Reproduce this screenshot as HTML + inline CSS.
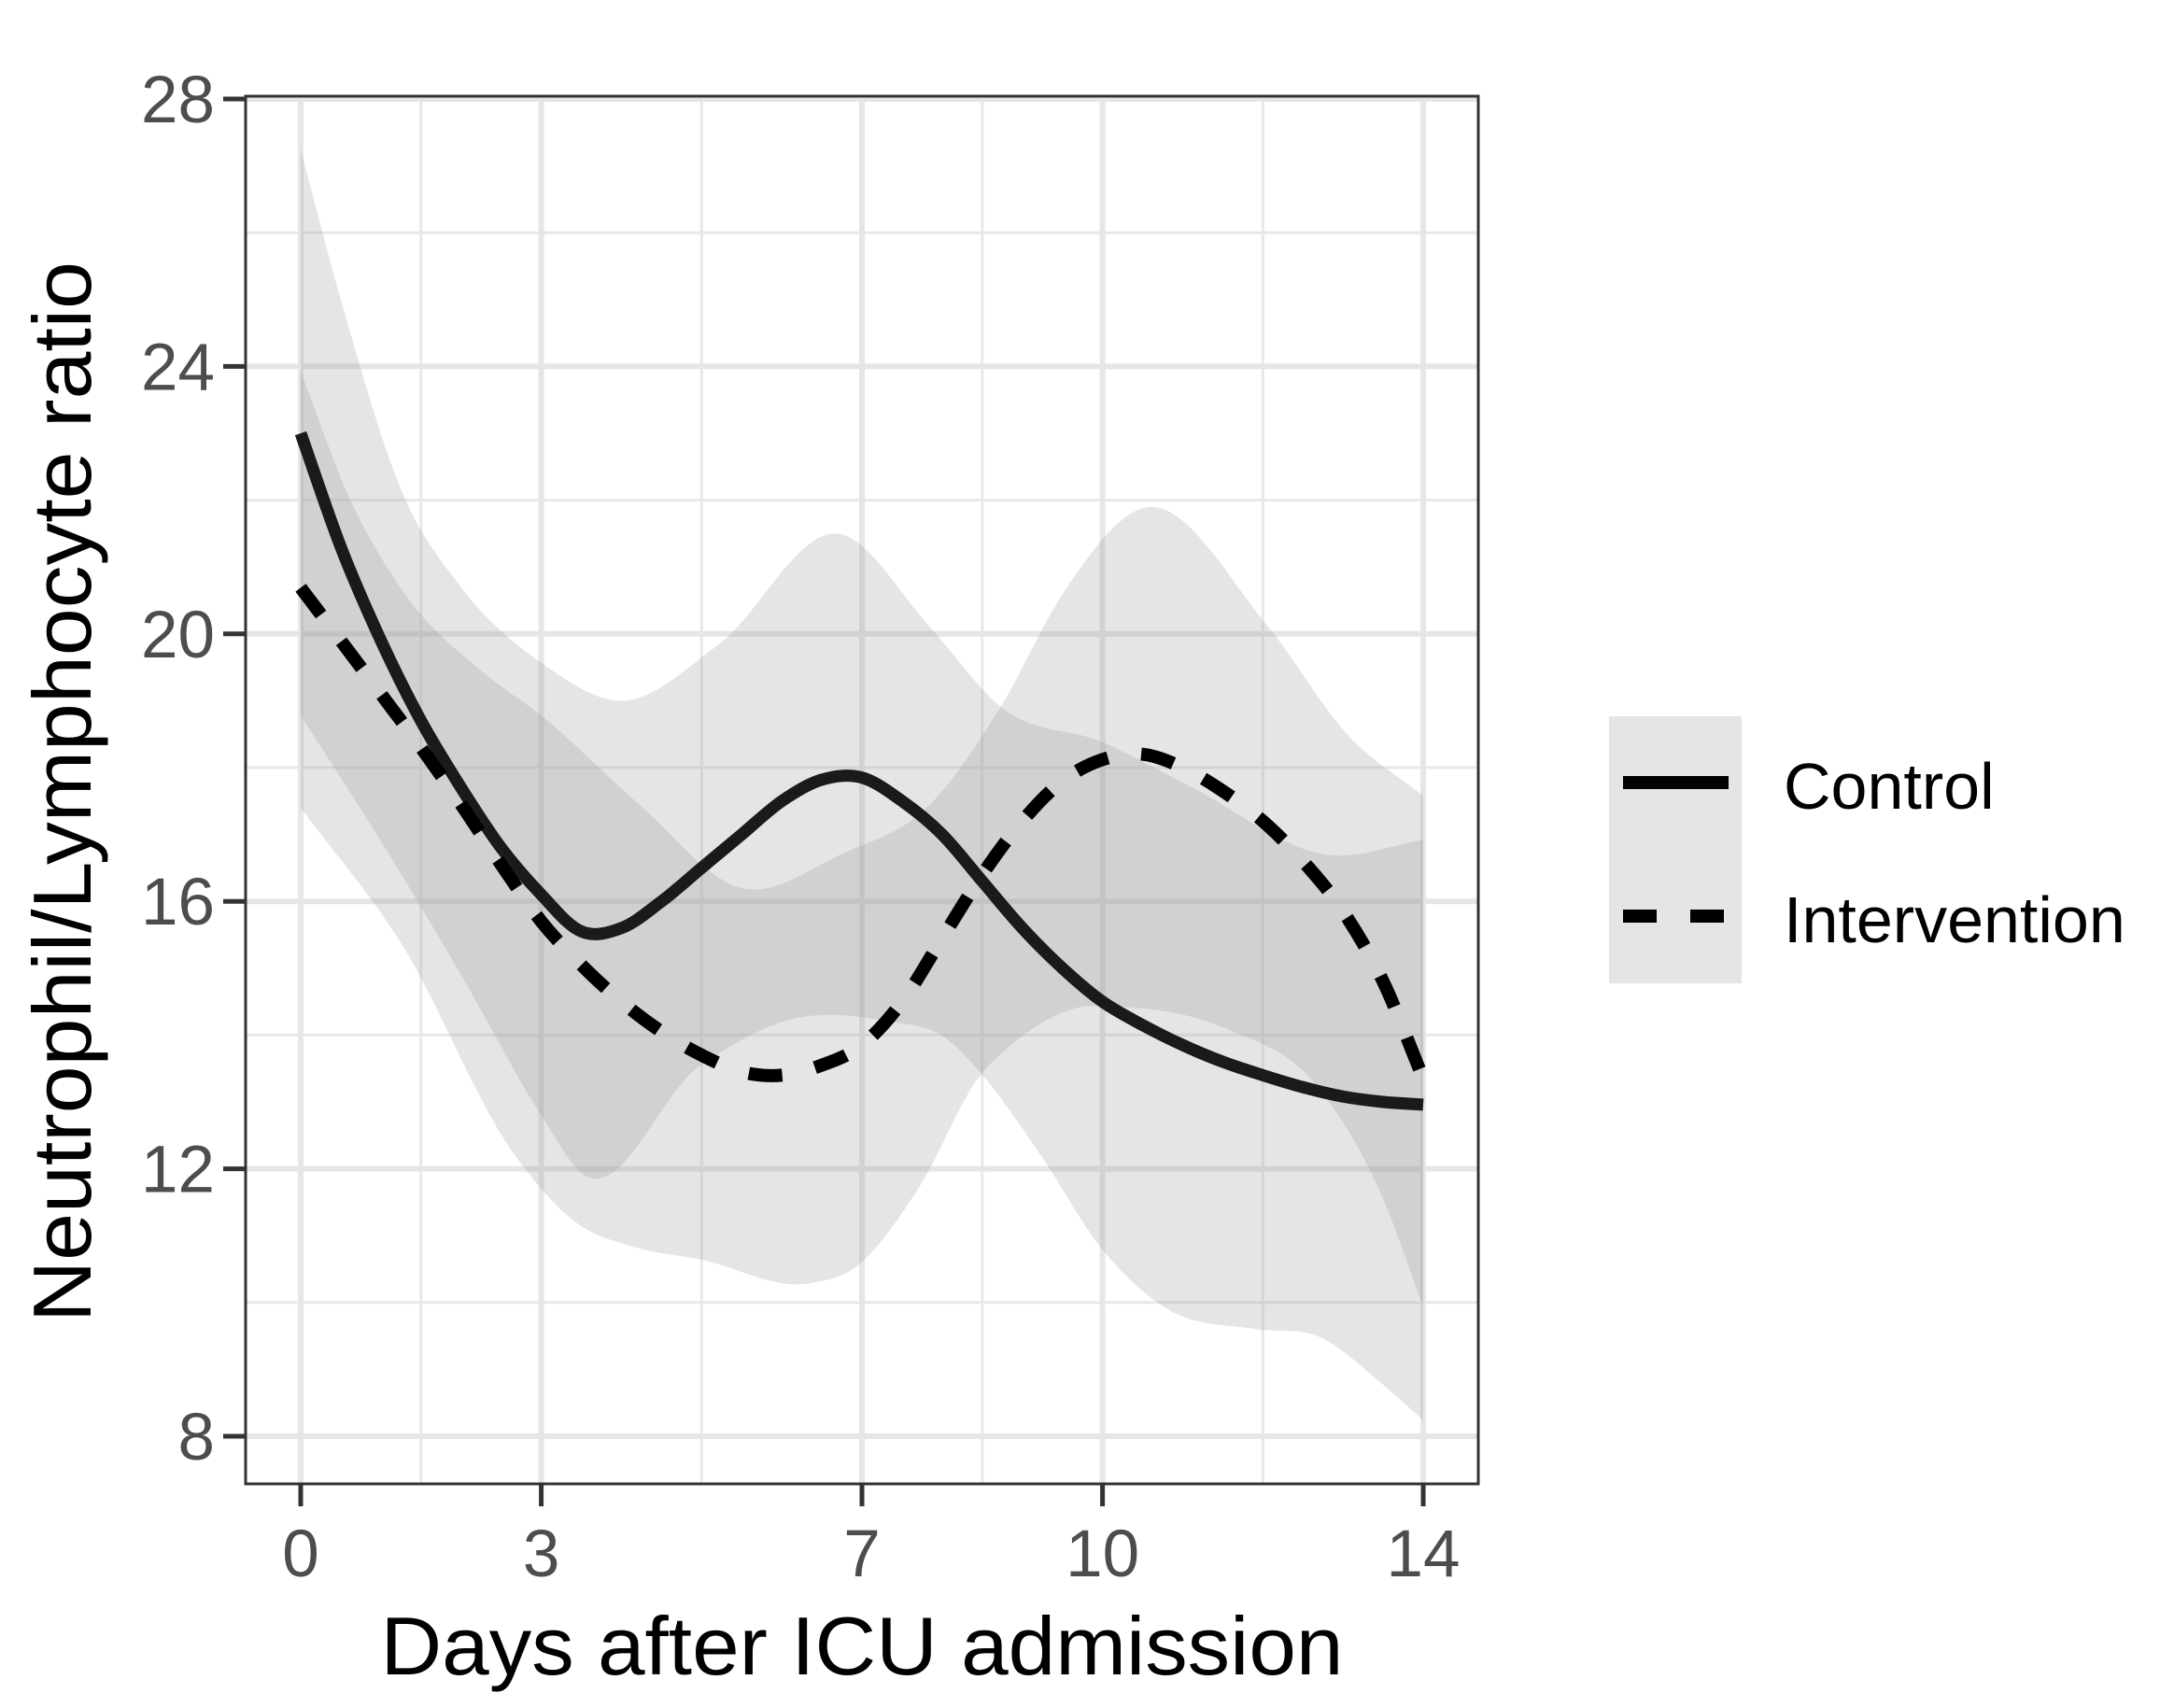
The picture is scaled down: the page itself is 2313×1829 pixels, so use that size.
<!DOCTYPE html>
<html><head><meta charset="utf-8"><style>
html,body{margin:0;padding:0;background:#fff;}
svg{display:block;font-family:"Liberation Sans",Arial,sans-serif;}
</style></head><body>
<svg id="chart" width="2313" height="1829" viewBox="0 0 2313 1829" xmlns="http://www.w3.org/2000/svg">
<rect x="0" y="0" width="2313" height="1829" fill="#fff"/>
<g id="grid"></g>
<g id="bands"></g>
<g id="lines"></g>
<rect x="263" y="103" width="1320" height="1486" fill="none" stroke="#333" stroke-width="3"/>
<g id="axes"></g>
<text x="923" y="1793" font-size="88" text-anchor="middle" textLength="1031" lengthAdjust="spacingAndGlyphs" fill="#000">Days after ICU admission</text>
<text transform="translate(97,848) rotate(-90)" font-size="88" text-anchor="middle" textLength="1136" lengthAdjust="spacingAndGlyphs" fill="#000">Neutrophil/Lymphocyte ratio</text>
<g>
<rect x="1723" y="767" width="142" height="286" fill="#e5e5e5"/>
<line x1="1738" y1="838" x2="1851" y2="838" stroke="#000" stroke-width="14"/>
<line x1="1738" y1="981" x2="1851" y2="981" stroke="#000" stroke-width="14" stroke-dasharray="36 36"/>
<text x="1910" y="866" font-size="70" fill="#000">Control</text>
<text x="1910" y="1009" font-size="70" fill="#000">Intervention</text>
</g>
</svg>
<script>
const xTicks = [0, 3, 7, 10, 14];
const xMinor = [1.5, 5, 8.5, 12];
const yTicks = [8, 12, 16, 20, 24, 28];
const yMinor = [10, 14, 18, 22, 26];

const ctrlDays = [0, 0.5, 1, 1.5, 2, 2.5, 3, 3.5, 4, 4.5, 5, 5.5, 6, 6.5, 7, 7.5, 8, 8.5, 9, 9.5, 10, 10.5, 11, 11.5, 12, 12.5, 13, 13.5, 14];
const ctrlMean = [23.0, 21.3, 19.9, 18.7, 17.7, 16.8, 16.1, 15.55, 15.6, 16.0, 16.5, 17.0, 17.5, 17.82, 17.85, 17.5, 17.0, 16.3, 15.6, 15.0, 14.5, 14.15, 13.85, 13.6, 13.4, 13.22, 13.08, 13.0, 12.96];
const ctrlUpDays = [0, 0.5, 1.28, 2, 3, 4.02, 5.2, 6.74, 7.85, 8.73, 10, 11.09, 12.85, 14];
const ctrlUpper = [27.24, 25.0, 22.08, 20.7, 19.57, 19.0, 19.83, 21.49, 20.1, 18.91, 18.38, 17.72, 16.69, 16.92];
const ctrlLoDays = [0, 1, 2, 3, 3.5, 4.97, 6.13, 7.29, 8.06, 8.49, 9.22, 10, 10.76, 11.93, 12.7, 13.46, 14];
const ctrlLower = [18.78, 16.9, 14.9, 12.8, 11.94, 13.53, 14.24, 14.21, 13.94, 13.42, 12.22, 10.79, 9.94, 9.6, 9.49, 8.81, 8.24];

const intDays = [0, 0.5, 1, 1.5, 2, 2.5, 3, 3.5, 4, 4.5, 5, 5.5, 6, 6.5, 7, 7.5, 8, 8.5, 9, 9.5, 10, 10.5, 11, 11.5, 12, 12.5, 13, 13.5, 14];
const intMean = [20.69, 19.9, 19.1, 18.3, 17.45, 16.55, 15.7, 15.05, 14.5, 14.05, 13.7, 13.45, 13.4, 13.55, 13.85, 14.5, 15.45, 16.4, 17.2, 17.8, 18.12, 18.2, 18.0, 17.65, 17.2, 16.6, 15.85, 14.8, 13.35];
const intUpDays = [0, 0.59, 1.28, 2.26, 3, 4.22, 5.49, 6.77, 7.85, 8.73, 9.52, 10.5, 12.07, 13.05, 14];
const intUpper = [23.93, 22.08, 20.63, 19.44, 18.78, 17.45, 16.2, 16.72, 17.45, 18.91, 20.63, 21.88, 20.1, 18.5, 17.58];
const intLoDays = [0, 1.27, 2.66, 3.43, 4.2, 4.97, 6.36, 6.9, 7.68, 8.49, 8.83, 9.6, 10.38, 11.53, 12.7, 13.46, 14];
const intLower = [17.4, 15.34, 12.22, 11.2, 10.82, 10.65, 10.29, 10.51, 11.66, 13.42, 13.82, 14.38, 14.41, 14.1, 13.2, 11.66, 9.94];

const NS = "http://www.w3.org/2000/svg";
const PL = 263, PR = 1583, PT = 103, PB = 1589;
const X0 = 322, XS = 85.86, Y28 = 106, YS = 71.6;
function sx(d){ return X0 + d * XS; }
function sy(v){ return Y28 + (28 - v) * YS; }
function mk(tag, attrs, parent){
  const e = document.createElementNS(NS, tag);
  for (const k in attrs) e.setAttribute(k, attrs[k]);
  parent.appendChild(e);
  return e;
}
function pts(days, vals){ return days.map((d,i)=>[sx(d), sy(vals[i])]); }
// Hermite spline in x (handles uneven spacing without kinks)
function slopes(p){
  const n = p.length, m = [];
  for (let i=0;i<n;i++){
    if (i===0) m.push((p[1][1]-p[0][1])/(p[1][0]-p[0][0]));
    else if (i===n-1) m.push((p[n-1][1]-p[n-2][1])/(p[n-1][0]-p[n-2][0]));
    else {
      const h0=p[i][0]-p[i-1][0], h1=p[i+1][0]-p[i][0];
      const d0=(p[i][1]-p[i-1][1])/h0, d1=(p[i+1][1]-p[i][1])/h1;
      m.push((d0*h1 + d1*h0)/(h0+h1));
    }
  }
  return m;
}
function segs(p){
  const m = slopes(p); let s = "";
  for (let i=0;i<p.length-1;i++){
    const h = p[i+1][0]-p[i][0];
    const c1=[p[i][0]+h/3, p[i][1]+m[i]*h/3];
    const c2=[p[i+1][0]-h/3, p[i+1][1]-m[i+1]*h/3];
    s += " C"+c1[0].toFixed(1)+","+c1[1].toFixed(1)+" "+c2[0].toFixed(1)+","+c2[1].toFixed(1)+" "+p[i+1][0].toFixed(1)+","+p[i+1][1].toFixed(1);
  }
  return s;
}
function spline(p){ return "M"+p[0][0].toFixed(1)+","+p[0][1].toFixed(1)+segs(p); }
function splineRev(p){
  // draw from right to left: build forward then reverse control points
  const m = slopes(p); let s = "";
  for (let i=p.length-1;i>0;i--){
    const h = p[i][0]-p[i-1][0];
    const c1=[p[i][0]-h/3, p[i][1]-m[i]*h/3];
    const c2=[p[i-1][0]+h/3, p[i-1][1]+m[i-1]*h/3];
    s += " C"+c1[0].toFixed(1)+","+c1[1].toFixed(1)+" "+c2[0].toFixed(1)+","+c2[1].toFixed(1)+" "+p[i-1][0].toFixed(1)+","+p[i-1][1].toFixed(1);
  }
  return s;
}

const grid = document.getElementById("grid");
yMinor.forEach(v=>{
  const l = mk("line",{x1:PL,x2:PR,y1:sy(v),y2:sy(v),stroke:"#e8e8e8","stroke-width":3},grid);
  
  
});
xMinor.forEach(d=>{
  const l = mk("line",{x1:sx(d),x2:sx(d),y1:PT,y2:PB,stroke:"#e8e8e8","stroke-width":3},grid);
  
  
});
yTicks.forEach(v=>{
  const l = mk("line",{x1:PL,x2:PR,y1:sy(v),y2:sy(v),stroke:"#e6e6e6","stroke-width":6},grid);
  
  
});
xTicks.forEach(d=>{
  const l = mk("line",{x1:sx(d),x2:sx(d),y1:PT,y2:PB,stroke:"#e6e6e6","stroke-width":6},grid);
  
  
});

const bands = document.getElementById("bands");
function band(ud, uv, ld, lv, name){
  const up = pts(ud, uv), lo = pts(ld, lv);
  const last = lo[lo.length-1];
  const d = spline(up) + " L" + last[0].toFixed(1) + "," + last[1].toFixed(1) + splineRev(lo) + " Z";
  const p = mk("path",{d:d,fill:"#999","fill-opacity":0.25,stroke:"none"},bands);
  
  
}
band(ctrlUpDays, ctrlUpper, ctrlLoDays, ctrlLower, "control-ci-band");
band(intUpDays, intUpper, intLoDays, intLower, "intervention-ci-band");

const lines = document.getElementById("lines");
const lc = mk("path",{d:spline(pts(ctrlDays, ctrlMean)),fill:"none",stroke:"#1a1a1a","stroke-width":13},lines);


const li = mk("path",{d:spline(pts(intDays, intMean)),fill:"none",stroke:"#000","stroke-width":14,"stroke-dasharray":"36 36"},lines);



const axes = document.getElementById("axes");
yTicks.forEach(v=>{
  const t = mk("line",{x1:PL-24,x2:PL,y1:sy(v),y2:sy(v),stroke:"#333","stroke-width":5},axes);
  
  
  const tx = mk("text",{x:PL-33,y:sy(v)+25,"font-size":71,"text-anchor":"end",fill:"#4d4d4d"},axes);
  tx.textContent = String(v);
  
  
});
xTicks.forEach(d=>{
  const t = mk("line",{x1:sx(d),x2:sx(d),y1:PB,y2:PB+24,stroke:"#333","stroke-width":5},axes);
  
  
  const tx = mk("text",{x:sx(d),y:1688,"font-size":71,"text-anchor":"middle",fill:"#4d4d4d"},axes);
  tx.textContent = String(d);
  
  
});
</script>
</body></html>
